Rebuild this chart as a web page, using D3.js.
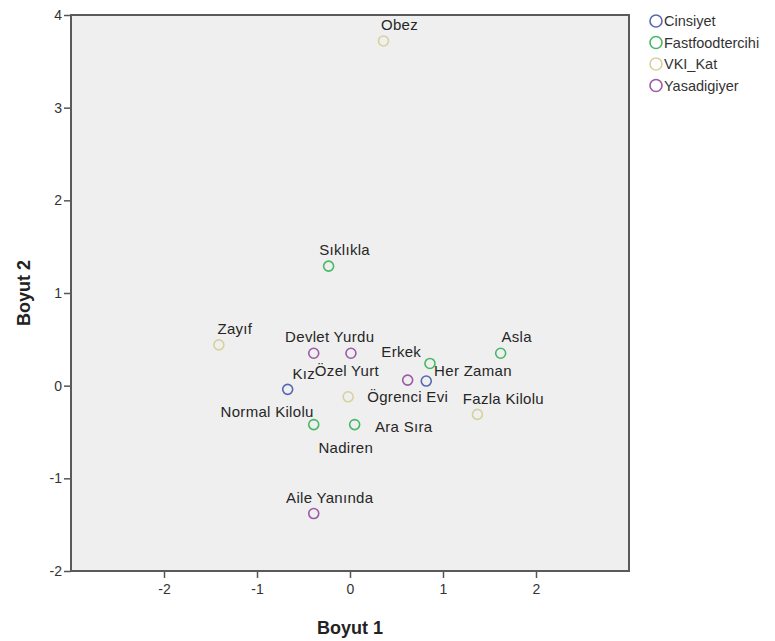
<!DOCTYPE html>
<html>
<head>
<meta charset="utf-8">
<script src="https://cdn.jsdelivr.net/npm/d3@7"></script>
<style>
  body { margin: 0; background: #fff; }
  svg text { font-family: "Liberation Sans", Arial, sans-serif; }
</style>
</head>
<body>
<div id="chart"></div>
<script>
// Variable groups (legend) and their categories
const groups = ['Cinsiyet', 'Fastfoodtercihi', 'VKI_Kat', 'Yasadigiyer'];
const groupColors = ['#5569b3', '#45b964', '#d6d29e', '#9c5aa6'];

const labels = [
  'Kız', 'Erkek',
  'Sıklıkla', 'Her Zaman', 'Asla', 'Nadiren', 'Ara Sıra',
  'Obez', 'Zayıf', 'Normal Kilolu', 'Fazla Kilolu',
  'Devlet Yurdu', 'Özel Yurt', 'Ögrenci Evi', 'Aile Yanında'
];
const groupIndex = [0, 0, 1, 1, 1, 1, 1, 2, 2, 2, 2, 3, 3, 3, 3];
const dim1 = [-0.67, 0.82, -0.23, 0.86, 1.62, -0.39, 0.05, 0.36, -1.41, -0.02, 1.37, -0.39, 0.01, 0.62, -0.39];
const dim2 = [-0.04, 0.05, 1.29, 0.24, 0.35, -0.42, -0.42, 3.72, 0.44, -0.12, -0.31, 0.35, 0.35, 0.06, -1.38];

const xTicks = [-2, -1, 0, 1, 2];
const yTicks = [-2, -1, 0, 1, 2, 3, 4];

// Label placement (pixel offsets of the text centre from its point)
const defaultOffset = [16, -16];
const labelOffsets = {
  'Erkek': [-25, -29],
  'Her Zaman': [43, 7],
  'Özel Yurt': [-4, 18],
  'Ögrenci Evi': [0, 17],
  'Normal Kilolu': [-81, 15],
  'Nadiren': [32, 23],
  'Ara Sıra': [49, 2],
  'Fazla Kilolu': [26, -16]
};

const width = 775;
const height = 641;
const margin = { top: 15, right: 146, bottom: 70, left: 71 };
const innerWidth = width - margin.left - margin.right;
const innerHeight = height - margin.top - margin.bottom;

const svg = d3.select('#chart')
  .append('svg')
  .attr('width', width)
  .attr('height', height);

const chart = svg.append('g')
  .attr('transform', `translate(${margin.left},${margin.top})`);

const xScale = d3.scaleLinear().domain([-3, 3]).range([0, innerWidth]);
const yScale = d3.scaleLinear().domain([-2, 4]).range([innerHeight, 0]);

chart.append('rect')
  .attr('width', innerWidth)
  .attr('height', innerHeight)
  .attr('fill', '#efefef');

// Plain hyphen for negatives, like the original
const tickFmt = d => String(d);

const xAxis = chart.append('g')
  .attr('transform', `translate(0,${innerHeight})`)
  .call(d3.axisBottom(xScale).tickValues(xTicks).tickSize(7).tickPadding(6).tickFormat(tickFmt));

const yAxis = chart.append('g')
  .call(d3.axisLeft(yScale).tickValues(yTicks).tickSize(7).tickPadding(2).tickFormat(tickFmt));

[xAxis, yAxis].forEach(ax => {
  ax.select('.domain').remove();
  ax.selectAll('line').attr('stroke', '#555').attr('stroke-width', 1.5);
  ax.selectAll('text').attr('fill', '#333').style('font-size', '14px');
});

// Frame on top of the grey plot area
chart.append('rect')
  .attr('width', innerWidth)
  .attr('height', innerHeight)
  .attr('fill', 'none')
  .attr('stroke', '#5a5a5a')
  .attr('stroke-width', 2);

const points = labels.map((label, i) => ({
  label,
  x: dim1[i],
  y: dim2[i],
  group: groupIndex[i]
}));

chart.append('g')
  .selectAll('circle')
  .data(points)
  .join('circle')
    .attr('cx', d => xScale(d.x))
    .attr('cy', d => yScale(d.y))
    .attr('r', 5)
    .attr('fill', 'none')
    .attr('stroke', d => groupColors[d.group])
    .attr('stroke-width', 1.6);

chart.append('g')
  .selectAll('text')
  .data(points)
  .join('text')
    .attr('x', d => xScale(d.x) + (labelOffsets[d.label] || defaultOffset)[0])
    .attr('y', d => yScale(d.y) + (labelOffsets[d.label] || defaultOffset)[1])
    .attr('text-anchor', 'middle')
    .attr('dy', '0.35em')
    .attr('fill', '#262626')
    .style('font-size', '15px')
    .style('letter-spacing', '0.3px')
    .text(d => d.label);

// Axis titles
svg.append('text')
  .attr('x', margin.left + innerWidth / 2)
  .attr('y', 634)
  .attr('text-anchor', 'middle')
  .attr('font-weight', 'bold')
  .style('font-size', '18px')
  .attr('fill', '#222')
  .text('Boyut 1');

svg.append('text')
  .attr('transform', `translate(30,${margin.top + innerHeight / 2}) rotate(-90)`)
  .attr('text-anchor', 'middle')
  .attr('font-weight', 'bold')
  .style('font-size', '18px')
  .attr('fill', '#222')
  .text('Boyut 2');

// Legend
const legend = svg.append('g')
  .attr('transform', 'translate(656,21)');

const items = legend.selectAll('g')
  .data(groups)
  .join('g')
    .attr('transform', (d, i) => `translate(0,${i * 21.5})`);

items.append('circle')
  .attr('r', 6)
  .attr('fill', 'none')
  .attr('stroke', (d, i) => groupColors[i])
  .attr('stroke-width', 1.6);

items.append('text')
  .attr('x', 8)
  .attr('dy', '0.35em')
  .attr('fill', '#333')
  .style('font-size', '14.5px')
  .text(d => d);
</script>
</body>
</html>
